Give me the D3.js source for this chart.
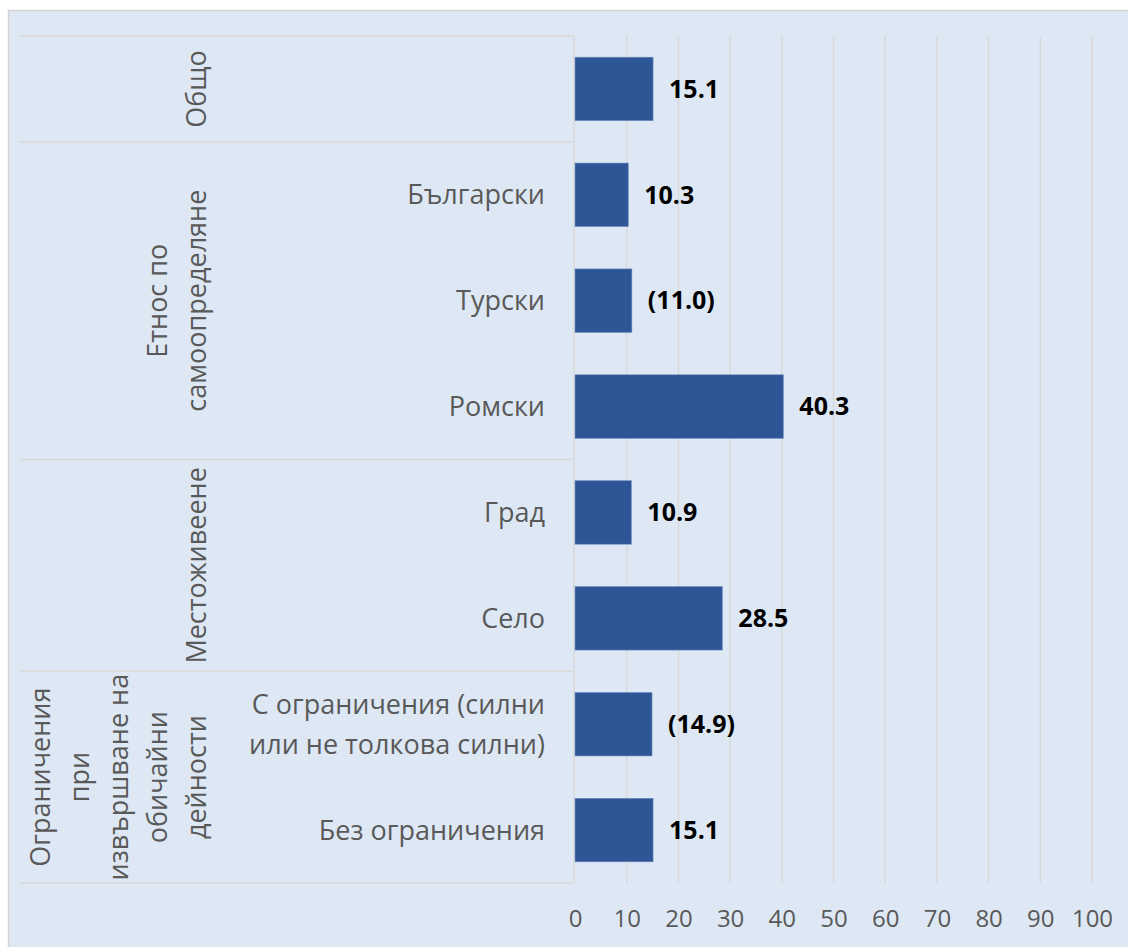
<!DOCTYPE html>
<html><head><meta charset="utf-8">
<script src="https://cdn.jsdelivr.net/npm/d3@7"></script>
<style>
html,body{margin:0;padding:0;background:#fff;}
svg{display:block;}
</style></head>
<body>
<svg id="chart" width="1128" height="947"></svg>
<script>
const categories = ["", "Български", "Турски", "Ромски", "Град", "Село", "С ограничения (силни|или не толкова силни)", "Без ограничения"];
const values = [15.1, 10.3, 11.0, 40.3, 10.9, 28.5, 14.9, 15.1];
const valueLabels = ["15.1", "10.3", "(11.0)", "40.3", "10.9", "28.5", "(14.9)", "15.1"];
const groupNames = ["Общо", "Етнос по|самоопределяне", "Местоживеене", "Ограничения|при|извършване на|обичайни|дейности"];
const groupSizes = [1, 3, 2, 2];
const xTicks = [0, 10, 20, 30, 40, 50, 60, 70, 80, 90, 100];

(function () {
const svg = d3.select("#chart");
const W = 1128, H = 947;
const font = "'Open Sans', sans-serif";
const grey = "#595959";
const lineCol = "#d9d9d9";

svg.append("rect").attr("x", 8.5).attr("y", 10.5).attr("width", W).attr("height", H)
  .attr("fill", "#dde8f4").attr("stroke", "#d4d4d4").attr("stroke-width", 1.5);

const pTop = 36, pBottom = 883, x0 = 575, x1 = 1092, catLeft = 20;
const x = d3.scaleLinear().domain([0, 100]).range([x0, x1]);
const y = d3.scaleBand().domain(d3.range(categories.length)).range([pTop, pBottom]).paddingInner(0.4).paddingOuter(0.2);

svg.append("g").selectAll("line").data(xTicks.slice(1)).join("line")
  .attr("x1", d => x(d)).attr("x2", d => x(d)).attr("y1", pTop).attr("y2", pBottom)
  .attr("stroke", lineCol).attr("stroke-width", 1.5);

const xAxis = d3.axisBottom(x).tickValues(xTicks).tickSize(0).tickPadding(0).tickFormat(d3.format("d"));
const gx = svg.append("g").attr("transform", `translate(0,${pBottom + 25})`).call(xAxis);
gx.select(".domain").remove();
gx.selectAll("text").attr("font-family", font).attr("font-size", 24).attr("fill", grey).attr("dy", "0.32em").attr("y", 11);

const step = (pBottom - pTop) / categories.length;
let cum = [0];
groupSizes.forEach(s => cum.push(cum[cum.length - 1] + s));
svg.append("g").selectAll("line").data(cum).join("line")
  .attr("x1", catLeft).attr("x2", x0).attr("y1", d => pTop + d * step).attr("y2", d => pTop + d * step)
  .attr("stroke", lineCol).attr("stroke-width", 1.5);
svg.append("line").attr("x1", x0 - 1).attr("x2", x0 - 1).attr("y1", pTop).attr("y2", pBottom)
  .attr("stroke", lineCol).attr("stroke-width", 1.5);

svg.append("g").selectAll("rect").data(values).join("rect")
  .attr("x", x(0)).attr("y", (d, i) => y(i)).attr("width", d => x(d) - x(0)).attr("height", y.bandwidth())
  .attr("fill", "#2e5596").attr("stroke", "#6f8fc4").attr("stroke-width", 0.6);

svg.append("g").selectAll("text").data(values).join("text")
  .attr("x", d => x(d) + 16).attr("y", (d, i) => y(i) + y.bandwidth() / 2).attr("dy", "0.35em")
  .attr("font-family", font).attr("font-size", 25).attr("font-weight", "bold").attr("fill", "#000")
  .text((d, i) => valueLabels[i]);

const lh = 40;
svg.append("g").selectAll("text").data(categories).join("text")
  .attr("text-anchor", "end").attr("font-family", font).attr("font-size", 27).attr("fill", grey)
  .each(function (d, i) {
    const lines = d ? d.split("|") : [];
    const cy = y(i) + y.bandwidth() / 2;
    const t = d3.select(this);
    lines.forEach((l, k) => {
      t.append("tspan").attr("x", 545).attr("y", cy + (k - (lines.length - 1) / 2) * lh).attr("dy", "0.35em").text(l);
    });
  });

const glh = 39;
groupNames.forEach((g, gi) => {
  const lines = g.split("|");
  const cy = pTop + (cum[gi] + groupSizes[gi] / 2) * step;
  const lastX = 197;
  const t = svg.append("text").attr("transform", `translate(0,${cy}) rotate(-90)`)
    .attr("text-anchor", "middle").attr("font-family", font).attr("font-size", 27).attr("fill", grey);
  lines.forEach((l, k) => {
    t.append("tspan").attr("x", 0).attr("y", lastX - (lines.length - 1 - k) * glh).attr("dy", "0.35em").text(l);
  });
});
})();
</script>
</body></html>
